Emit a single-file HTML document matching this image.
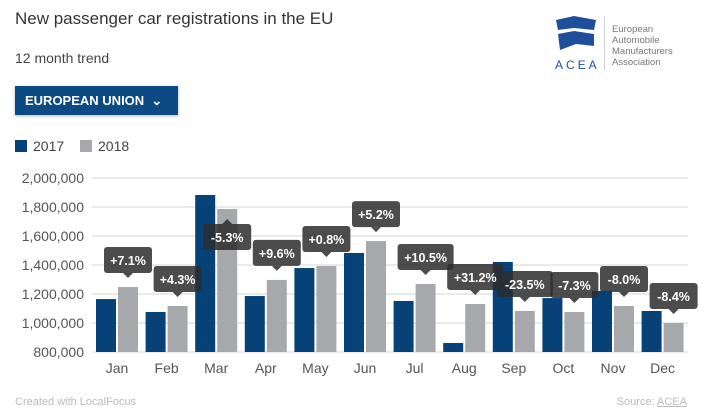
<!DOCTYPE html>
<html><head><meta charset="utf-8"><style>
body{margin:0;width:702px;height:415px;background:#fff;font-family:"Liberation Sans",sans-serif;position:relative;overflow:hidden}
.abs{position:absolute}
</style></head><body>
<div class="abs" style="left:15px;top:9px;font-size:17px;color:#333">New passenger car registrations in the EU</div>
<div class="abs" style="left:15px;top:50px;font-size:14px;color:#444">12 month trend</div>
<div class="abs" style="left:15px;top:86px;width:163px;height:29px;background:#0b4a82;color:#fff;font-size:13px;font-weight:bold;line-height:29px;box-sizing:border-box;padding-left:10px;box-shadow:0 1px 3px rgba(0,0,0,.3)">EUROPEAN UNION &nbsp;⌄</div>
<div class="abs" style="left:15px;top:138px;font-size:14px;color:#444"><span style="display:inline-block;width:12px;height:12px;background:#064277;vertical-align:-1px;margin-right:6px"></span>2017</div>
<div class="abs" style="left:80px;top:138px;font-size:14px;color:#444"><span style="display:inline-block;width:12px;height:12px;background:#a7a8ab;vertical-align:-1px;margin-right:6px"></span>2018</div>
<div class="abs" style="left:552px;top:14px;width:145px;height:56px">
<svg width="50" height="40" style="position:absolute;left:2px;top:0"><path d="M2 6 L20 2 L42 6 L40 16 L20 14 L4 16Z M4 20 L20 17 L40 20 L40 32 L22 30 L6 36Z" fill="#1f4f9a"/></svg>
<div class="abs" style="left:3px;top:44px;font-size:12px;color:#1f4f9a;letter-spacing:3px">ACEA</div>
<div class="abs" style="left:52px;top:2px;width:1px;height:54px;background:#ccc"></div>
<div class="abs" style="left:60px;top:10px;font-size:9.5px;line-height:11px;color:#777">European<br>Automobile<br>Manufacturers<br>Association</div>
</div>
<svg id="chart" class="abs" style="left:0;top:0" width="702" height="415"></svg>
<div class="abs" style="left:15px;top:396px;font-size:11px;color:#bbb">Created with LocalFocus</div>
<div class="abs" style="right:15px;top:396px;font-size:11px;color:#bbb">Source: <u>ACEA</u></div>
<script>
const months=["Jan","Feb","Mar","Apr","May","Jun","Jul","Aug","Sep","Oct","Nov","Dec"];
const v2017=[1165000,1076000,1883000,1186000,1379000,1483000,1152000,862000,1421000,1172000,1221000,1083000];
const v2018=[1248000,1117000,1786000,1297000,1393000,1565000,1269000,1131000,1083000,1076000,1117000,1000000];
const changes=["+7.1%","+4.3%","-5.3%","+9.6%","+0.8%","+5.2%","+10.5%","+31.2%","-23.5%","-7.3%","-8.0%","-8.4%"];
const ticks=[800000,1000000,1200000,1400000,1600000,1800000,2000000];
const NS="http://www.w3.org/2000/svg",svg=document.getElementById('chart');
const y=v=>352-(v-800000)/200000*29, xc=i=>117+i*49.6;
function mk(t,a,p){const e=document.createElementNS(NS,t);for(const k in a)e.setAttribute(k,a[k]);(p||svg).appendChild(e);return e;}
ticks.forEach(t=>{
 const l=mk('line',{x1:92,x2:688,y1:y(t),y2:y(t),stroke:'#eaeaea','stroke-width':2});
 
 
 const tx=mk('text',{x:84,y:y(t)+5,'text-anchor':'end','font-size':14,fill:'#555'});tx.textContent=t.toLocaleString('en-US');
 
 
});
months.forEach((m,i)=>{
 const c=xc(i);
 const b1=mk('rect',{x:c-21,y:y(v2017[i]),width:20,height:352-y(v2017[i]),fill:'#064277'});
 
 
 const b2=mk('rect',{x:c+1,y:y(v2018[i]),width:20,height:352-y(v2018[i]),fill:'#a7a8ab'});
 
 
 const tx=mk('text',{x:c,y:373,'text-anchor':'middle','font-size':14,fill:'#555'});tx.textContent=m;
 
 
});
months.forEach((m,i)=>{
 const c=xc(i)+11, top=y(v2018[i]);
 const w=changes[i].length>5?56:48, h=26;
 const g=mk('g',{});
 
 
 let by=top-14-h, flip=false;
 if(by<190){flip=true;by=top+15;}
 mk('rect',{x:c-w/2,y:by,width:w,height:h,rx:3,fill:'rgba(45,45,45,0.85)'},g);
 if(flip) mk('path',{d:`M${c-5} ${by} L${c} ${by-5} L${c+5} ${by}Z`,fill:'rgba(45,45,45,0.85)'},g);
 else mk('path',{d:`M${c-5} ${by+h} L${c} ${by+h+5} L${c+5} ${by+h}Z`,fill:'rgba(45,45,45,0.85)'},g);
 const t=mk('text',{x:c,y:by+18,'text-anchor':'middle','font-size':12.5,'font-weight':'bold',fill:'#fff'},g);t.textContent=changes[i];
});
</script>
</body></html>
